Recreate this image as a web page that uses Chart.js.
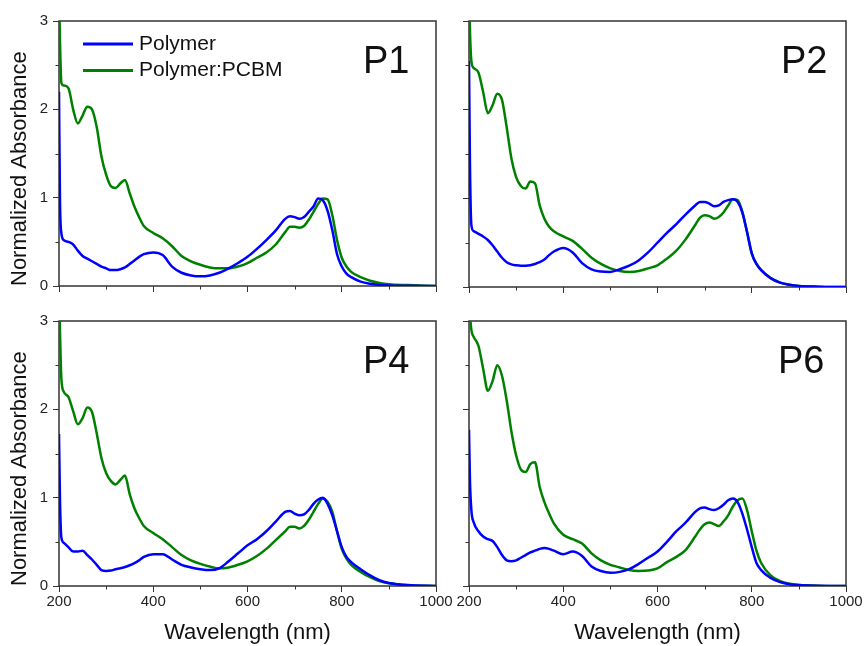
<!DOCTYPE html>
<html>
<head>
<meta charset="utf-8">
<script src="https://cdn.jsdelivr.net/npm/chart.js@4.4.1/dist/chart.umd.min.js"></script>
<style>
  body { margin: 0; background: #fff; }
  #wrap { position: relative; width: 864px; height: 646px; overflow: hidden; background: #fff; }
  canvas { position: absolute; }
</style>
</head>
<body>
<div id="wrap">
  <canvas id="p1" width="460" height="300" style="left:0;top:0"></canvas>
  <canvas id="p2" width="424" height="300" style="left:440px;top:0"></canvas>
  <canvas id="p4" width="460" height="346" style="left:0;top:300px"></canvas>
  <canvas id="p6" width="424" height="346" style="left:440px;top:300px"></canvas>
</div>
<script>
// wavelength grid (nm), shared by all spectra
const wavelength = [200,202,205,210,220,230,240,250,260,270,280,290,300,310,320,330,340,350,360,370,380,
  400,420,440,460,480,500,520,540,560,580,600,620,640,660,680,
  690,700,710,720,730,740,750,760,770,780,790,800,810,820,840,860,880,900,940,1000];

// normalized absorbance
const polymerP1 = [2.2,1.0,0.6,0.52,0.50,0.47,0.40,0.34,0.31,0.28,0.25,0.22,0.20,0.18,0.18,0.19,0.21,0.25,0.29,0.33,0.36,
  0.38,0.35,0.22,0.15,0.12,0.11,0.12,0.15,0.20,0.26,0.33,0.42,0.52,0.63,0.76,
  0.79,0.78,0.76,0.78,0.84,0.90,0.99,0.97,0.85,0.63,0.36,0.22,0.14,0.10,0.05,0.025,0.012,0.006,0.002,0];
const pcbmP1 = [3.4,2.8,2.3,2.27,2.24,2.0,1.84,1.93,2.03,2.0,1.80,1.47,1.26,1.13,1.11,1.16,1.20,1.05,0.90,0.78,0.68,
  0.60,0.54,0.45,0.34,0.28,0.24,0.21,0.20,0.20,0.22,0.26,0.32,0.38,0.47,0.61,
  0.67,0.67,0.66,0.68,0.75,0.84,0.93,0.99,0.98,0.80,0.52,0.32,0.22,0.16,0.10,0.06,0.035,0.02,0.01,0];

const polymerP2 = [2.55,1.4,0.70,0.63,0.60,0.57,0.53,0.47,0.40,0.33,0.28,0.255,0.245,0.24,0.24,0.245,0.26,0.28,0.31,0.36,0.40,
  0.44,0.39,0.27,0.20,0.175,0.17,0.20,0.24,0.30,0.39,0.50,0.61,0.71,0.82,0.92,
  0.96,0.96,0.94,0.91,0.92,0.96,0.98,0.99,0.96,0.84,0.62,0.38,0.26,0.19,0.10,0.05,0.025,0.012,0.004,0];
const pcbmP2 = [3.4,2.9,2.55,2.47,2.42,2.2,1.96,2.05,2.18,2.11,1.80,1.45,1.24,1.14,1.11,1.19,1.17,0.92,0.77,0.68,0.63,
  0.57,0.52,0.43,0.33,0.26,0.21,0.18,0.17,0.18,0.21,0.245,0.32,0.41,0.54,0.70,
  0.78,0.81,0.80,0.77,0.79,0.84,0.92,0.99,0.98,0.85,0.62,0.38,0.26,0.19,0.10,0.05,0.025,0.012,0.004,0];

const polymerP4 = [1.72,1.0,0.55,0.49,0.44,0.39,0.39,0.40,0.35,0.30,0.24,0.18,0.17,0.175,0.19,0.20,0.215,0.235,0.26,0.29,0.33,
  0.36,0.36,0.30,0.24,0.21,0.19,0.18,0.20,0.28,0.37,0.46,0.53,0.62,0.73,0.84,
  0.85,0.82,0.80,0.81,0.86,0.93,0.98,1.0,0.93,0.80,0.62,0.44,0.33,0.27,0.19,0.12,0.065,0.035,0.01,0];
const pcbmP4 = [3.4,2.9,2.35,2.2,2.14,1.98,1.83,1.90,2.02,1.97,1.73,1.45,1.28,1.19,1.15,1.20,1.25,1.04,0.88,0.77,0.68,
  0.60,0.53,0.44,0.35,0.29,0.25,0.22,0.20,0.21,0.24,0.28,0.34,0.42,0.52,0.62,
  0.67,0.67,0.65,0.68,0.75,0.84,0.93,0.99,0.95,0.84,0.62,0.42,0.31,0.24,0.16,0.10,0.055,0.03,0.008,0];

const polymerP6 = [1.77,1.2,0.86,0.72,0.62,0.56,0.53,0.51,0.44,0.35,0.29,0.28,0.29,0.32,0.35,0.38,0.40,0.42,0.43,0.42,0.40,
  0.36,0.39,0.34,0.22,0.17,0.15,0.16,0.19,0.25,0.32,0.39,0.50,0.62,0.72,0.84,
  0.88,0.89,0.87,0.86,0.88,0.92,0.97,0.99,0.95,0.82,0.64,0.44,0.26,0.18,0.09,0.045,0.02,0.01,0.003,0];
const pcbmP6 = [3.4,3.1,2.9,2.82,2.72,2.46,2.21,2.32,2.50,2.38,2.10,1.75,1.48,1.32,1.29,1.38,1.40,1.12,0.95,0.82,0.71,
  0.58,0.53,0.48,0.37,0.29,0.24,0.21,0.18,0.17,0.175,0.20,0.27,0.33,0.41,0.56,
  0.64,0.70,0.72,0.70,0.68,0.73,0.80,0.90,0.97,0.99,0.86,0.62,0.40,0.26,0.12,0.055,0.025,0.012,0.004,0];

const seriesNames = ['Polymer', 'Polymer:PCBM'];
const seriesColors = ['#0000ff', '#008000'];
const xMinorTicks = [300, 500, 700, 900];
const yMinorTicks = [0.5, 1.5, 2.5];

const FONT = '"Liberation Sans", Arial, Helvetica, sans-serif';
Chart.defaults.font.family = FONT;
Chart.defaults.color = '#222';

const panels = [
  { id: 'p1', name: 'P1', polymer: polymerP1, pcbm: pcbmP1, yLabels: true,  xLabels: false, legend: true,
    yWidth: 59, xHeight: 13, pad: { top: 21, right: 24, left: 0, bottom: 0 }, nameDx: 304 },
  { id: 'p2', name: 'P2', polymer: polymerP2, pcbm: pcbmP2, yLabels: false, xLabels: false, legend: false,
    yWidth: 29, xHeight: 13, pad: { top: 21, right: 18, left: 0, bottom: 0 }, nameDx: 312 },
  { id: 'p4', name: 'P4', polymer: polymerP4, pcbm: pcbmP4, yLabels: true,  xLabels: true,  legend: false,
    yWidth: 59, xHeight: 60, pad: { top: 21, right: 24, left: 0, bottom: 0 }, nameDx: 304 },
  { id: 'p6', name: 'P6', polymer: polymerP6, pcbm: pcbmP6, yLabels: false, xLabels: true,  legend: false,
    yWidth: 29, xHeight: 60, pad: { top: 21, right: 18, left: 0, bottom: 0 }, nameDx: 309 }
];

// frame, minor ticks, panel name and legend
const panelDecor = {
  id: 'panelDecor',
  beforeDatasetsDraw(chart) {
    const { ctx, chartArea: a, scales: { x, y } } = chart;
    ctx.save();
    ctx.strokeStyle = '#333';
    ctx.lineWidth = 1.5;
    ctx.strokeRect(a.left, a.top, a.right - a.left, a.bottom - a.top);
    ctx.lineWidth = 1;
    ctx.beginPath();
    xMinorTicks.forEach(v => {
      const px = Math.round(x.getPixelForValue(v)) + 0.5;
      ctx.moveTo(px, a.bottom); ctx.lineTo(px, a.bottom + 3.5);
    });
    yMinorTicks.forEach(v => {
      const py = Math.round(y.getPixelForValue(v)) + 0.5;
      ctx.moveTo(a.left, py); ctx.lineTo(a.left - 3.5, py);
    });
    ctx.stroke();
    ctx.restore();
  },
  afterDatasetsDraw(chart, args, opts) {
    const { ctx, chartArea: a } = chart;
    ctx.save();
    ctx.fillStyle = '#111';
    ctx.font = '38px ' + FONT;
    ctx.textAlign = 'left';
    ctx.textBaseline = 'alphabetic';
    ctx.fillText(opts.name, a.left + opts.nameDx, a.top + 52);
    if (opts.legend) {
      ctx.font = '21px ' + FONT;
      ctx.textBaseline = 'middle';
      chart.data.datasets.forEach((ds, i) => {
        const ly = a.top + 23 + i * 26.5;
        ctx.strokeStyle = ds.borderColor;
        ctx.lineWidth = 3;
        ctx.beginPath();
        ctx.moveTo(a.left + 24, ly); ctx.lineTo(a.left + 74, ly);
        ctx.stroke();
        ctx.fillStyle = '#111';
        ctx.fillText(ds.label, a.left + 80, ly);
      });
    }
    ctx.restore();
  }
};

panels.forEach(p => {
  const toPoints = vals => wavelength.map((w, i) => ({ x: w, y: vals[i] }));
  new Chart(document.getElementById(p.id), {
    type: 'line',
    data: {
      datasets: [
        { label: seriesNames[0], data: toPoints(p.polymer), borderColor: seriesColors[0] },
        { label: seriesNames[1], data: toPoints(p.pcbm), borderColor: seriesColors[1] }
      ]
    },
    options: {
      responsive: false,
      animation: false,
      layout: { padding: p.pad },
      elements: {
        point: { radius: 0 },
        line: { borderWidth: 2.5, cubicInterpolationMode: 'monotone', fill: false }
      },
      plugins: {
        legend: { display: false },
        tooltip: { enabled: false },
        panelDecor: { name: p.name, legend: p.legend, nameDx: p.nameDx }
      },
      scales: {
        x: {
          type: 'linear',
          min: 200, max: 1000,
          afterFit: s => { s.height = p.xHeight; },
          border: { display: false },
          grid: { drawOnChartArea: false, drawTicks: true, tickLength: 6, color: '#333' },
          ticks: { stepSize: 200, display: p.xLabels, autoSkip: false, maxRotation: 0, padding: 1,
                   font: { size: 15 }, color: '#222', callback: v => String(v) },
          title: { display: p.xLabels, text: 'Wavelength (nm)', font: { size: 22 }, color: '#111',
                   padding: { top: 0, bottom: 0 } }
        },
        y: {
          min: 0, max: 3,
          afterFit: s => { s.width = p.yWidth; },
          border: { display: false },
          grid: { drawOnChartArea: false, drawTicks: true, tickLength: 6, color: '#333' },
          ticks: { stepSize: 1, display: p.yLabels, padding: 5, font: { size: 15 }, color: '#222',
                   callback: v => String(v) },
          title: { display: p.yLabels, text: 'Normalized Absorbance', align: 'start', font: { size: 22 },
                   color: '#111', padding: { top: 7, bottom: 0 } }
        }
      }
    },
    plugins: [panelDecor]
  });
});
</script>
</body>
</html>
